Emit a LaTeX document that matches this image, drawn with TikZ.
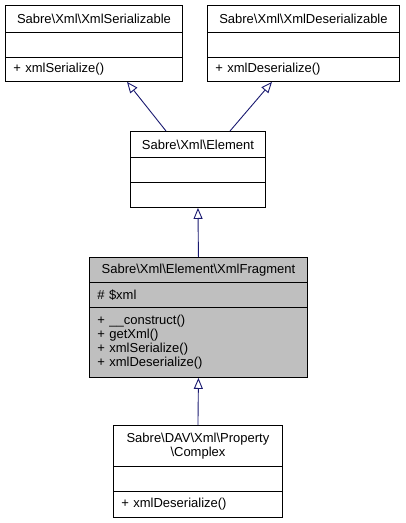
\documentclass[tikz,border=0pt]{standalone}
\usepackage{fontspec}
\setmainfont{Liberation Sans}
\usetikzlibrary{arrows.meta,calc}
\definecolor{edgeblue}{HTML}{191970}
\definecolor{hlgray}{HTML}{BFBFBF}
\tikzset{
  row/.style={draw=black, line width=0.9bp, rectangle, inner sep=0pt, anchor=north west,
    font=\fontsize{13bp}{14bp}\selectfont},
  titlerow/.style={row, align=center},
  memrow/.style={row, align=left, inner xsep=8bp},
  inh/.style={draw=edgeblue, line width=0.9bp,
    -{Triangle[open, length=11bp, width=9bp, fill=white]}},
}
\newcommand{\bs}{\textbackslash}
\begin{document}
\begin{tikzpicture}[x=1bp,y=-1bp]
\useasboundingbox (0,0) rectangle (405,523);
% XmlSerializable
\node[titlerow, minimum width=177bp, minimum height=27bp] (aT) at (5,5) {Sabre\bs Xml\bs XmlSerializable};
\node[memrow, minimum width=177bp, minimum height=25bp] (aA) at (5,32) {};
\node[memrow, minimum width=177bp, minimum height=24bp, text width=161bp] (aM) at (5,57) {+ xmlSerialize()};
% XmlDeserializable
\node[titlerow, minimum width=192bp, minimum height=27bp] (bT) at (207,5) {Sabre\bs Xml\bs XmlDeserializable};
\node[memrow, minimum width=192bp, minimum height=25bp] (bA) at (207,32) {};
\node[memrow, minimum width=192bp, minimum height=24bp, text width=176bp] (bM) at (207,57) {+ xmlDeserialize()};
% Element
\node[titlerow, minimum width=135bp, minimum height=26bp] (eT) at (130,131) {Sabre\bs Xml\bs Element};
\node[memrow, minimum width=135bp, minimum height=25bp] (eA) at (130,157) {};
\node[memrow, minimum width=135bp, minimum height=25bp] (eM) at (130,182) {};
% XmlFragment
\node[titlerow, fill=hlgray, minimum width=218bp, minimum height=25bp] (fT) at (89,257) {Sabre\bs Xml\bs Element\bs XmlFragment};
\node[memrow, fill=hlgray, minimum width=218bp, minimum height=25bp, text width=202bp] (fA) at (89,282) {\# \$xml};
\node[memrow, fill=hlgray, minimum width=218bp, minimum height=70bp, text width=202bp] (fM) at (89,307)
  {+ \_\_construct()\\+ getXml()\\+ xmlSerialize()\\+ xmlDeserialize()};
% Complex
\node[titlerow, minimum width=169bp, minimum height=41bp] (cT) at (113,425) {Sabre\bs DAV\bs Xml\bs Property\\\bs Complex};
\node[memrow, minimum width=169bp, minimum height=25bp] (cA) at (113,466) {};
\node[memrow, minimum width=169bp, minimum height=26bp, text width=153bp] (cM) at (113,491) {+ xmlDeserialize()};
% connector end points
\coordinate (eOutA) at ($(eT.north west)+(36,0)$);
\coordinate (aIn) at ($(aM.south west)+(122,0)$);
\coordinate (eOutB) at ($(eT.north west)+(100,0)$);
\coordinate (bIn) at ($(bM.south west)+(65,0)$);
% inheritance
\draw[inh] (eOutA) -- (aIn);
\draw[inh] (eOutB) -- (bIn);
\draw[inh] (fT.north) -- (eM.south);
\draw[inh] (cT.north) -- (fM.south);
\end{tikzpicture}
\end{document}
